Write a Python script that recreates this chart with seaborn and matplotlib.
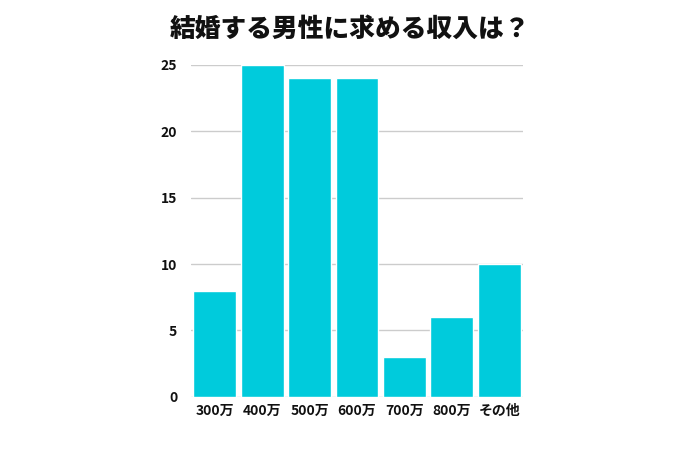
import matplotlib
matplotlib.use("Agg")
import matplotlib.pyplot as plt
import seaborn as sns
import pandas as pd

categories = ["300万", "400万", "500万", "600万", "700万", "800万", "その他"]
values = [8, 25, 24, 24, 3, 6, 10]
yticks = [0, 5, 10, 15, 20, 25]
title = "結婚する男性に求める収入は？"

sns.set_theme(style="white")
plt.rcParams['font.family'] = ['Noto Sans CJK JP', 'DejaVu Sans']

df = pd.DataFrame({"cat": categories, "val": values})

fig = plt.figure(figsize=(7, 4.5), dpi=100)
ax = fig.add_axes([0.273, 0.118, 0.474, 0.738])
sns.barplot(data=df, x="cat", y="val", color="#00CBDC", saturation=1, width=0.9, ax=ax, zorder=3)
ax.set_ylim(0, 25)
ax.set_yticks(yticks)
ax.set_xlim(-0.5, len(categories) - 0.5)
ax.yaxis.grid(True, color="#CCCCCC", linewidth=1, zorder=0)
ax.set_axisbelow(True)
for s in ax.spines.values():
    s.set_visible(False)
ax.set_xlabel("")
ax.set_ylabel("")
ax.tick_params(axis="both", length=0, labelsize=10, colors="#111111")
ax.tick_params(axis="y", pad=10)
ax.tick_params(axis="x", pad=5)
for lbl in ax.get_xticklabels() + ax.get_yticklabels():
    lbl.set_fontweight("bold")
fig.text(0.5, 0.935, title, ha="center", va="center", fontsize=18.5, fontweight="black", color="#111111")
fig.savefig("out.png", dpi=100, facecolor="white")
